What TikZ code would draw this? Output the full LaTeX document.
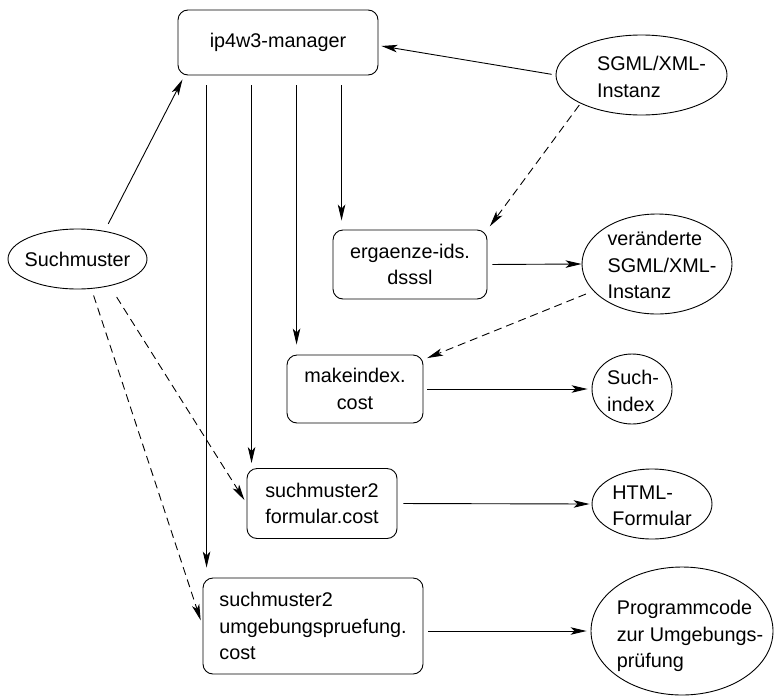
\documentclass[tikz,border=0pt]{standalone}
\usepackage{fontspec}
\setmainfont{Liberation Sans}
\usetikzlibrary{arrows.meta,shapes.geometric,calc}

\begin{document}
\begin{tikzpicture}[x=1pt,y=-1pt,
  every node/.style={font=\fontsize{19.8}{26.5}\selectfont, line width=0.9pt},
  box/.style={draw, rounded corners=10pt, inner sep=0pt},
  oval/.style={draw, ellipse, inner sep=0pt},
  txt/.style={inner sep=0pt, align=left},
  arr/.style={line width=0.9pt, -{Stealth[length=16pt,width=7.5pt,inset=4pt]}},
  dsh/.style={arr, dash pattern=on 8pt off 5pt},
]
\useasboundingbox (0,0) rectangle (775,696);

% processing steps
\node[box, minimum width=200pt, minimum height=65pt] (manager) at (278,42.5) {ip4w3-manager};
\node[box, minimum width=154pt, minimum height=69pt, align=center] (ergaenze) at (410,264.5) {ergaenze-ids.\\dsssl};
\node[box, minimum width=136pt, minimum height=68pt, align=center] (makeindex) at (355,389) {makeindex.\\cost};
\node[box, minimum width=150pt, minimum height=70pt, align=left] (formular) at (322,503.5) {suchmuster2\\formular.cost};
\node[box, minimum width=220pt, minimum height=96pt, align=left] (umg) at (313,626) {suchmuster2\\umgebungspruefung.\\cost};

% data objects
\node[oval, minimum width=139pt, minimum height=60pt] (suchm) at (77.5,259) {};
\node[txt] (suchmtext) at (suchm) {Suchmuster};
\node[oval, minimum width=171pt, minimum height=80pt] (sgml) at (641.5,75) {};
\node[txt] (sgmltext) at ($(sgml)+(10,2)$) {SGML/XML-\\Instanz};
\node[oval, minimum width=150pt, minimum height=100pt] (verand) at (657,264) {};
\node[txt] (verandtext) at ($(verand)+(5,1)$) {veränderte\\SGML/XML-\\Instanz};
\node[oval, minimum width=80pt, minimum height=70pt] (such) at (632,389) {};
\node[txt] (suchtext) at ($(such)+(1,2)$) {Such-\\index};
\node[oval, minimum width=120pt, minimum height=70pt] (html) at (652,504) {};
\node[txt] (htmltext) at ($(html)+(0,2)$) {HTML-\\Formular};
\node[oval, minimum width=182pt, minimum height=128pt] (prog) at (682,631) {};
\node[txt] (progtext) at ($(prog)+(8,5)$) {Programmcode\\zur Umgebungs-\\prüfung};

% control flow out of the manager
\draw[arr, shorten <=4pt, shorten >=3pt] (sgml.west) -- ($(manager.east)+(0,3)$);
\draw[arr, shorten <=8pt, shorten >=4.5pt] (suchm.46) -- ($(manager.south west)+(7,0)$);

\coordinate (v1) at ($(ergaenze.north west)+(9,0)$);
\coordinate (v2) at ($(makeindex.north west)+(10,0)$);
\coordinate (v3) at ($(formular.north west)+(5,0)$);
\coordinate (v4) at ($(umg.north west)+(4,0)$);
\draw[arr, shorten <=10pt, shorten >=9pt] (manager.south -| v1) -- (v1);
\draw[arr, shorten <=10pt, shorten >=10pt] (manager.south -| v2) -- (v2);
\draw[arr, shorten <=10pt, shorten >=5pt] (manager.south -| v3) -- (v3);
\draw[arr, shorten <=10pt, shorten >=10pt] (manager.south -| v4) -- (v4);

% data inputs
\draw[dsh, shorten <=2pt, shorten >=4pt] (sgml.205) -- (ergaenze.north east);
\draw[dsh, shorten <=8pt, shorten >=4pt] (verand.203) -- ($(makeindex.north east)+(0,5)$);
\draw[dsh, shorten <=13pt, shorten >=4pt] (suchm.-40) -- (formular.west);
\draw[dsh, shorten <=7pt, shorten >=6pt] (suchm.-65) -- (umg.west);

% outputs
\draw[arr, shorten <=5pt] (ergaenze.east) -- (verand.west);
\draw[arr, shorten <=4pt, shorten >=4pt] (makeindex.east) -- (such.west);
\draw[arr, shorten <=6pt, shorten >=2pt] (formular.east) -- (html.west);
\draw[arr, shorten <=5pt, shorten >=4pt] (umg.east |- prog.west) -- (prog.west);
\end{tikzpicture}
\end{document}
